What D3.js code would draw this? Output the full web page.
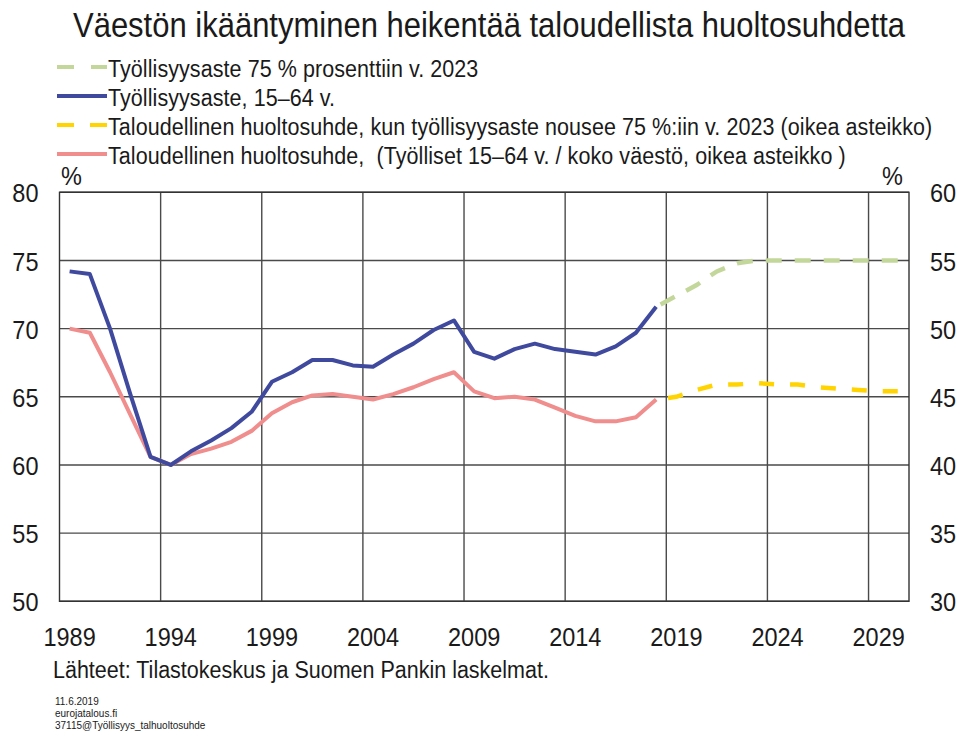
<!DOCTYPE html>
<html>
<head>
<meta charset="utf-8">
<script src="https://cdn.jsdelivr.net/npm/d3@7"></script>
<style>
  body { margin: 0; background: #fff; }
  text { font-family: "Liberation Sans", Arial, sans-serif; fill: #1a1a1a; white-space: pre; }
</style>
</head>
<body>
<script>
const histYears = d3.range(1989, 2019);
const employmentRate = [74.2, 74.0, 70.0, 65.2, 60.6, 60.0, 61.0, 61.8, 62.7, 63.9,
  66.1, 66.8, 67.7, 67.7, 67.3, 67.2, 68.1, 68.9, 69.9, 70.6,
  68.3, 67.8, 68.5, 68.9, 68.5, 68.3, 68.1, 68.7, 69.7, 71.6];
const dependencyRatio = [50.0, 49.7, 46.8, 43.7, 40.6, 40.0, 40.8, 41.2, 41.7, 42.5,
  43.8, 44.6, 45.1, 45.2, 45.0, 44.8, 45.2, 45.7, 46.3, 46.8,
  45.4, 44.9, 45.0, 44.8, 44.2, 43.6, 43.2, 43.2, 43.5, 44.8];
const forecastYears = d3.range(2018, 2031);
const employmentTarget = [71.6, 72.4, 73.2, 74.2, 74.8, 75.0, 75.0, 75.0, 75.0, 75.0, 75.0, 75.0, 75.0];
const ratioTarget = [44.8, 45.0, 45.5, 45.9, 45.9, 46.0, 45.9, 45.9, 45.7, 45.6, 45.5, 45.4, 45.4];

const allYears = d3.range(1989, 2031);
const xTickYears = [1989, 1994, 1999, 2004, 2009, 2014, 2019, 2024, 2029];
const leftTicks = [50, 55, 60, 65, 70, 75, 80];
const rightTicks = [30, 35, 40, 45, 50, 55, 60];

const titleText = "Väestön ikääntyminen heikentää taloudellista huoltosuhdetta";
const legendLabels = [
  "Työllisyysaste 75 % prosenttiin v. 2023",
  "Työllisyysaste, 15–64 v.",
  "Taloudellinen huoltosuhde, kun työllisyysaste nousee 75 %:iin v. 2023 (oikea asteikko)",
  "Taloudellinen huoltosuhde,  (Työlliset 15–64 v. / koko väestö, oikea asteikko )"
];
const sourceText = "Lähteet: Tilastokeskus ja Suomen Pankin laskelmat.";
const footLines = ["11.6.2019", "eurojatalous.fi", "37115@Työllisyys_talhuoltosuhde"];

const colors = { green: "#c4d79b", blue: "#3f4a9e", yellow: "#ffd400", pink: "#f08d8d" };

const width = 962, height = 734;
const plot = { left: 59.5, right: 909, top: 192.3, bottom: 601.3 };
const K = 1.13; // vertical stretch of the lettering in the original

const svg = d3.select("body").append("svg")
    .attr("width", width)
    .attr("height", height);

function label(g, x, y, str, size, anchor) {
  return g.append("text")
      .attr("transform", `translate(${x},${y}) scale(1,${K})`)
      .attr("font-size", size)
      .attr("text-anchor", anchor || "start")
      .text(str);
}

// scales
const x = d3.scaleBand().domain(allYears).range([plot.left, plot.right]).padding(0);
const xc = d => x(d) + x.bandwidth() / 2;
const yL = d3.scaleLinear().domain([50, 80]).range([plot.bottom, plot.top]);
const yR = d3.scaleLinear().domain([30, 60]).range([plot.bottom, plot.top]);

// grid
const grid = svg.append("g");
grid.selectAll("line.h").data(leftTicks).enter().append("line")
    .attr("x1", plot.left).attr("x2", plot.right)
    .attr("y1", d => yL(d)).attr("y2", d => yL(d))
    .attr("stroke", "#4a4a4a").attr("stroke-width", 1.4);
grid.selectAll("line.v").data(xTickYears.slice(1)).enter().append("line")
    .attr("x1", d => x(d)).attr("x2", d => x(d))
    .attr("y1", plot.top).attr("y2", plot.bottom)
    .attr("stroke", "#4a4a4a").attr("stroke-width", 1.4);
svg.append("rect")
    .attr("x", plot.left).attr("y", plot.top)
    .attr("width", plot.right - plot.left).attr("height", plot.bottom - plot.top)
    .attr("fill", "none").attr("stroke", "#333").attr("stroke-width", 1.4);

// axes
const axL = svg.append("g")
    .attr("transform", `translate(${plot.left},0)`)
    .call(d3.axisLeft(yL).tickValues(leftTicks).tickSize(0).tickPadding(21));
const axR = svg.append("g")
    .attr("transform", `translate(${plot.right},0)`)
    .call(d3.axisRight(yR).tickValues(rightTicks).tickSize(0).tickPadding(21));
const axB = svg.append("g")
    .attr("transform", `translate(0,${plot.bottom})`)
    .call(d3.axisBottom(x).tickValues(xTickYears).tickSize(0));
[axL, axR, axB].forEach(a => {
  a.select(".domain").remove();
  a.selectAll("text")
      .attr("font-size", 23.5)
      .attr("fill", "#1a1a1a")
      .style("font-family", "'Liberation Sans', Arial, sans-serif");
});
axL.selectAll("text").attr("dy", "0.36em").attr("transform", `scale(1,${K})`);
axR.selectAll("text").attr("dy", "0.36em").attr("transform", `scale(1,${K})`);
axB.selectAll("text").attr("y", 0).attr("dy", 0)
    .attr("transform", `translate(0,${(646 - plot.bottom)}) scale(1,${K})`);

label(svg, 61, 185, "%", 23.5);
label(svg, 903, 185, "%", 23.5, "end");

// lines
const line = (ys, scale) => d3.line()
    .x((d, i) => xc(ys[i]))
    .y(d => scale(d));

svg.append("path").datum(dependencyRatio)
    .attr("d", line(histYears, yR))
    .attr("fill", "none").attr("stroke", colors.pink)
    .attr("stroke-width", 4).attr("stroke-linejoin", "round");
svg.append("path").datum(employmentRate)
    .attr("d", line(histYears, yL))
    .attr("fill", "none").attr("stroke", colors.blue)
    .attr("stroke-width", 4).attr("stroke-linejoin", "round");
svg.append("path").datum(employmentTarget)
    .attr("d", line(forecastYears, yL))
    .attr("fill", "none").attr("stroke", colors.green)
    .attr("stroke-width", 4.5).attr("stroke-dasharray", "16,13").attr("stroke-dashoffset", -5);
svg.append("path").datum(ratioTarget)
    .attr("d", line(forecastYears, yR))
    .attr("fill", "none").attr("stroke", colors.yellow)
    .attr("stroke-width", 4.5).attr("stroke-dasharray", "15,16").attr("stroke-dashoffset", -12);

// legend
const legendStyle = [
  { color: colors.green, dash: "17,17" },
  { color: colors.blue, dash: null },
  { color: colors.yellow, dash: "17,16" },
  { color: colors.pink, dash: null }
];
const legendBase = [76.5, 105.5, 134.5, 163.5];
const legend = svg.append("g");
legendLabels.forEach((t, i) => {
  const ly = legendBase[i] - 9.5;
  legend.append("line")
      .attr("x1", 57).attr("x2", 107).attr("y1", ly).attr("y2", ly)
      .attr("stroke", legendStyle[i].color).attr("stroke-width", 4)
      .attr("stroke-dasharray", legendStyle[i].dash);
  label(legend, 108, legendBase[i], t, 21.5).attr("letter-spacing", 0.07);
});

// title and sources
label(svg, 489, 37, titleText, 31, "middle");
label(svg, 53, 678, sourceText, 21.5);
footLines.forEach((t, i) => {
  label(svg, 55, 705 + i * 12, t, 10).attr("fill", "#9a9a9a");
});
</script>
</body>
</html>
